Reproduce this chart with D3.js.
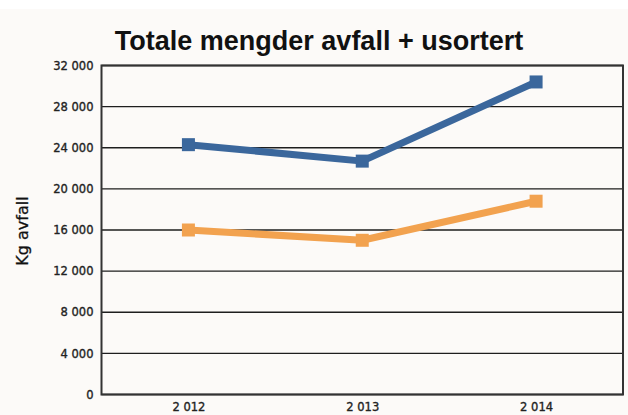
<!DOCTYPE html>
<html>
<head>
<meta charset="utf-8">
<script src="https://cdn.jsdelivr.net/npm/d3@7"></script>
<style>
  html, body { margin: 0; padding: 0; background: #ffffff; }
  svg { display: block; }
</style>
</head>
<body>
<svg id="chart" width="628" height="415"></svg>
<script>
const years = ["2012", "2013", "2014"];
const yearLabels = ["2 012", "2 013", "2 014"];
const seriesTotal = [24300, 22700, 30400];
const seriesSorted = [16000, 15000, 18800];
const yTicks = [0, 4000, 8000, 12000, 16000, 20000, 24000, 28000, 32000];
const yTickLabels = ["0", "4 000", "8 000", "12 000", "16 000", "20 000", "24 000", "28 000", "32 000"];
const title = "Totale mengder avfall + usortert";
const yTitle = "Kg avfall";

const W = 628, H = 415;
const m = { left: 101.5, right: 5, top: 65.5, bottom: 20.5 };
const svg = d3.select("#chart");

svg.append("rect").attr("x", 0).attr("y", 9).attr("width", W).attr("height", H - 9).attr("fill", "#fcfaf8");

const x = d3.scalePoint().domain(years).range([m.left, W - m.right]).padding(0.5);
const y = d3.scaleLinear().domain([0, 32000]).range([H - m.bottom, m.top]);

// gridlines
svg.append("g").selectAll("line").data(yTicks).join("line")
  .attr("x1", m.left).attr("x2", W - m.right)
  .attr("y1", d => y(d)).attr("y2", d => y(d))
  .attr("stroke", "#1e1e1e").attr("stroke-width", 1.4);

// frame
svg.append("rect")
  .attr("x", m.left).attr("y", m.top)
  .attr("width", W - m.right - m.left).attr("height", H - m.bottom - m.top)
  .attr("fill", "none").attr("stroke", "#333").attr("stroke-width", 2);

// y axis labels
const yAxis = d3.axisLeft(y).tickValues(yTicks).tickSize(0).tickPadding(8)
  .tickFormat((d, i) => yTickLabels[i]);
const gy = svg.append("g").attr("transform", `translate(${m.left},0)`).call(yAxis);
gy.select(".domain").remove();
gy.selectAll("text").attr("font-family", "DejaVu Sans").attr("font-size", 11.5)
  .attr("fill", "#222").attr("stroke", "#222").attr("stroke-width", 0.35);

// x axis labels
const xAxis = d3.axisBottom(x).tickSize(0).tickPadding(8).tickFormat((d, i) => yearLabels[i]);
const gx = svg.append("g").attr("transform", `translate(0,${H - m.bottom})`).call(xAxis);
gx.select(".domain").remove();
gx.selectAll("text").attr("font-family", "DejaVu Sans").attr("font-size", 11.5)
  .attr("fill", "#222").attr("stroke", "#222").attr("stroke-width", 0.35);

// lines
const line = d3.line().x((d, i) => x(years[i])).y(d => y(d));
const series = [
  { values: seriesSorted, color: "#f2a24f" },
  { values: seriesTotal, color: "#3b679c" }
];
series.forEach(s => {
  svg.append("path").datum(s.values).attr("d", line)
    .attr("fill", "none").attr("stroke", s.color).attr("stroke-width", 7)
    .attr("stroke-linejoin", "round");
  svg.append("g").selectAll("rect").data(s.values).join("rect")
    .attr("x", (d, i) => x(years[i]) - 6.5).attr("y", d => y(d) - 6.5)
    .attr("width", 13).attr("height", 13).attr("fill", s.color);
});

// title
svg.append("text").attr("x", 319).attr("y", 50).attr("text-anchor", "middle")
  .attr("font-family", "Liberation Sans, Arial, sans-serif").attr("font-weight", "bold")
  .attr("font-size", 27).attr("fill", "#111").text(title);

// y title
svg.append("text").attr("transform", "translate(28,231) rotate(-90)").attr("text-anchor", "middle")
  .attr("font-family", "DejaVu Sans").attr("font-size", 16).attr("fill", "#111")
  .attr("stroke", "#111").attr("stroke-width", 0.3).text(yTitle);
</script>
</body>
</html>
